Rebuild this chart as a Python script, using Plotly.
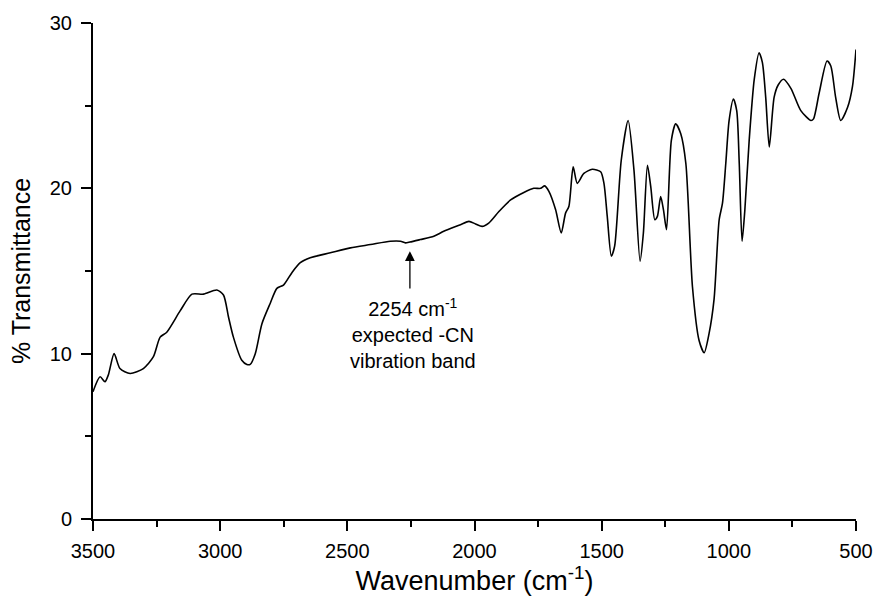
import plotly.graph_objects as go

wavenumber = [3500, 3472, 3453, 3440, 3417, 3394, 3354, 3302, 3263, 3236, 3210, 3157, 3111, 3066,
              3013, 2987, 2967, 2948, 2915, 2895, 2882, 2862, 2836, 2803, 2777, 2751, 2718, 2685,
              2646, 2567, 2488, 2409, 2331, 2291, 2272, 2254, 2213, 2160, 2121, 2055, 2022, 1996,
              1970, 1944, 1904, 1858, 1806, 1767, 1740, 1724, 1707, 1681, 1659, 1642, 1629, 1612,
              1596, 1570, 1537, 1504, 1491, 1478, 1462, 1449, 1423, 1396, 1373, 1349, 1336, 1320,
              1307, 1291, 1281, 1268, 1257, 1245, 1226, 1209, 1189, 1169, 1143, 1117, 1097, 1078,
              1058, 1038, 1025, 1012, 999, 982, 969, 959, 948, 937, 920, 900, 881, 868, 855, 841,
              822, 806, 785, 756, 717, 677, 667, 645, 614, 599, 580, 560, 533, 514, 500]
transmittance = [7.7, 8.6, 8.3, 8.7, 10.0, 9.1, 8.8, 9.1, 9.8, 11.0, 11.3, 12.6, 13.6, 13.6,
                 13.85, 13.55, 12.2, 11.0, 9.6, 9.35, 9.35, 10.0, 11.8, 13.05, 13.95, 14.15, 14.9, 15.5,
                 15.8, 16.1, 16.4, 16.6, 16.8, 16.8, 16.7, 16.75, 16.9, 17.1, 17.4, 17.8, 18.0, 17.85,
                 17.7, 17.9, 18.6, 19.3, 19.75, 20.0, 20.0, 20.15, 19.8, 18.7, 17.3, 18.5, 18.9, 21.3,
                 20.3, 20.9, 21.15, 21.0, 20.3, 18.3, 15.9, 16.5, 21.7, 24.1, 21.1, 15.6, 17.3, 21.4,
                 20.1, 18.1, 18.3, 19.5, 18.7, 17.5, 22.9, 23.9, 23.3, 21.5, 14.05, 10.8, 10.06, 11.2,
                 13.3, 18.1, 19.1, 21.5, 24.1, 25.4, 24.7, 21.5, 16.8, 18.7, 22.9, 26.6, 28.2, 27.6, 25.5, 22.5,
                 25.5, 26.25, 26.6, 26.05, 24.7, 24.1, 24.2, 25.75, 27.7, 27.4, 25.5, 24.1, 24.9, 26.15, 28.4]

x_ticks = [3500, 3000, 2500, 2000, 1500, 1000, 500]
x_minor = [3250, 2750, 2250, 1750, 1250, 750]
y_ticks = [0, 10, 20, 30]
y_minor = [5, 15, 25]
band_position = 2254
arrow_tail, arrow_head = 13.85, 16.2
note_lines = ["2254 cm<sup>-1</sup>", "expected -CN", "vibration band"]

FONT = "Arial, 'Liberation Sans', sans-serif"

fig = go.Figure()
fig.add_trace(go.Scatter(x=wavenumber, y=transmittance, mode="lines",
                         line=dict(color="black", width=1.6, shape="spline", smoothing=0.7),
                         showlegend=False, hoverinfo="skip"))

axis_common = dict(showline=True, linecolor="black", linewidth=2, ticks="outside",
                   ticklen=10, tickwidth=2, tickcolor="black", showgrid=False, zeroline=False,
                   automargin=False,
                   tickfont=dict(family=FONT, size=20, color="black"))

fig.update_xaxes(range=[3500, 500], tickvals=x_ticks, ticktext=[str(v) for v in x_ticks],
                 ticklabelstandoff=3,
                 title=dict(text="Wavenumber (cm<sup>-1</sup>)", font=dict(family=FONT, size=27, color="black"),
                            standoff=10),
                 minor=dict(tickvals=x_minor, ticks="outside", ticklen=6, tickwidth=2,
                            tickcolor="black", showgrid=False),
                 **axis_common)
fig.update_yaxes(range=[0, 30], tickvals=y_ticks, ticktext=[str(v) for v in y_ticks],
                 ticklabelstandoff=5,
                 title=dict(text="% Transmittance", font=dict(family=FONT, size=25, color="black"),
                            standoff=12),
                 minor=dict(tickvals=y_minor, ticks="outside", ticklen=6, tickwidth=2,
                            tickcolor="black", showgrid=False),
                 **axis_common)

fig.add_annotation(x=band_position, y=arrow_head, ax=band_position, ay=arrow_tail,
                   xref="x", yref="y", axref="x", ayref="y", text="", showarrow=True,
                   arrowhead=2, arrowsize=1.5, arrowwidth=1.3, arrowcolor="black", standoff=0)
fig.add_annotation(x=2240, y=13.68, xref="x", yref="y", text="<br>".join(note_lines),
                   showarrow=False, yanchor="top", xanchor="center", align="center",
                   font=dict(family=FONT, size=20, color="black"))

fig.update_layout(width=875, height=596, plot_bgcolor="white", paper_bgcolor="white",
                  margin=dict(l=93, r=19, t=23, b=77))

# remove the page body's default margin so the 875x596 figure fills the window exactly
fig.write_html("out.html", config={"displayModeBar": False},
               post_script="document.body.style.margin='0';document.body.style.overflow='hidden';")
